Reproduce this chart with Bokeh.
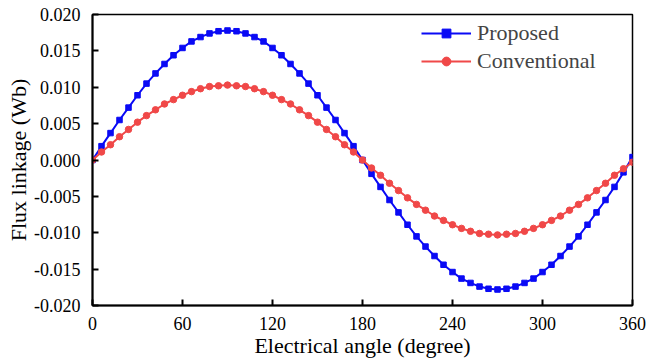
from bokeh.plotting import figure
from bokeh.models import Range1d, FixedTicker, NumeralTickFormatter, Legend, LegendItem
from bokeh.embed import file_html
from bokeh.resources import INLINE

angle = [0, 6, 12, 18, 24, 30, 36, 42, 48, 54, 60, 66, 72, 78, 84, 90,
         96, 102, 108, 114, 120, 126, 132, 138, 144, 150, 156, 162, 168, 174, 180,
         186, 192, 198, 204, 210, 216, 222, 228, 234, 240, 246, 252, 258, 264, 270,
         276, 282, 288, 294, 300, 306, 312, 318, 324, 330, 336, 342, 348, 354, 360]

proposed = [0.0000, 0.0019, 0.0037, 0.0055, 0.0072, 0.0089, 0.0105, 0.0119, 0.0132, 0.0144,
            0.0154, 0.0163, 0.0169, 0.0174, 0.0177, 0.0178,
            0.0177, 0.0174, 0.0169, 0.0163, 0.0154, 0.0144, 0.0132, 0.0119, 0.0105, 0.0089,
            0.0072, 0.0055, 0.0037, 0.0019, 0.0000,
            -0.0019, -0.0037, -0.0055, -0.0072, -0.0089, -0.0105, -0.0119, -0.0132, -0.0144,
            -0.0154, -0.0163, -0.0169, -0.0174, -0.0177, -0.0178,
            -0.0177, -0.0174, -0.0169, -0.0163, -0.0154, -0.0144, -0.0132, -0.0119, -0.0105,
            -0.0089, -0.0072, -0.0055, -0.0037, -0.0017, 0.0004]

conventional = [0.0000, 0.0011, 0.0021, 0.0032, 0.0042, 0.0052, 0.0061, 0.0069, 0.0077, 0.0083,
                0.0089, 0.0094, 0.0098, 0.0101, 0.0102, 0.0103,
                0.0102, 0.0101, 0.0098, 0.0094, 0.0089, 0.0083, 0.0077, 0.0069, 0.0061, 0.0052,
                0.0042, 0.0032, 0.0021, 0.0011, 0.0000,
                -0.0011, -0.0021, -0.0032, -0.0042, -0.0052, -0.0061, -0.0069, -0.0077, -0.0083,
                -0.0089, -0.0094, -0.0098, -0.0101, -0.0102, -0.0103,
                -0.0102, -0.0101, -0.0098, -0.0094, -0.0089, -0.0083, -0.0077, -0.0069, -0.0061,
                -0.0052, -0.0042, -0.0032, -0.0021, -0.0012, -0.0003]

x_ticks = [0, 60, 120, 180, 240, 300, 360]
y_ticks = [-0.020, -0.015, -0.010, -0.005, 0.000, 0.005, 0.010, 0.015, 0.020]

FONT = "Times New Roman"
BLUE = "#0a0af5"
RED = "#f04848"

p = figure(width=646, height=360, output_backend="svg", toolbar_location=None,
           x_range=Range1d(0, 360), y_range=Range1d(-0.020, 0.020),
           min_border_left=92, min_border_right=14, min_border_top=14, min_border_bottom=54)

p.grid.visible = False
p.outline_line_color = "black"
p.outline_line_width = 1.5
p.background_fill_color = "white"
p.border_fill_color = "white"

r1l = p.line(angle, proposed, line_color=BLUE, line_width=2)
r1m = p.scatter(angle, proposed, marker="square", size=5.5, fill_color=BLUE, line_color=BLUE)
r2l = p.line(angle, conventional, line_color=RED, line_width=2)
r2m = p.scatter(angle, conventional, marker="circle", size=6.5, fill_color=RED, line_color=RED)

for ax in (p.xaxis[0], p.yaxis[0]):
    ax.axis_line_width = 2
    ax.major_tick_line_width = 2
    ax.major_tick_in = 6
    ax.major_tick_out = 0
    ax.minor_tick_in = 0
    ax.minor_tick_out = 0
    ax.major_label_text_font = FONT
    ax.major_label_text_font_size = "18px"
    ax.major_label_text_color = "black"
    ax.axis_label_text_font = FONT
    ax.axis_label_text_font_style = "normal"
    ax.axis_label_text_font_size = "22px"
    ax.axis_label_text_color = "black"

p.xaxis[0].ticker = FixedTicker(ticks=x_ticks)
p.yaxis[0].ticker = FixedTicker(ticks=y_ticks)
p.yaxis[0].formatter = NumeralTickFormatter(format="0.000")
p.xaxis[0].axis_label = "Electrical angle (degree)"
p.yaxis[0].axis_label = "Flux linkage (Wb)"
p.xaxis[0].major_label_standoff = 11
p.yaxis[0].major_label_standoff = 12
p.xaxis[0].axis_label_standoff = 0
p.yaxis[0].axis_label_standoff = 0

legend = Legend(items=[LegendItem(label="Proposed", renderers=[r1l, r1m]),
                       LegendItem(label="Conventional", renderers=[r2l, r2m])],
                location=(329, 231), border_line_color=None, background_fill_alpha=0,
                label_text_font=FONT, label_text_font_size="22px",
                glyph_width=50, glyph_height=22, spacing=2, margin=0,
                label_standoff=6, padding=6)
p.add_layout(legend)

open("out.html", "w").write(file_html(p, INLINE))
